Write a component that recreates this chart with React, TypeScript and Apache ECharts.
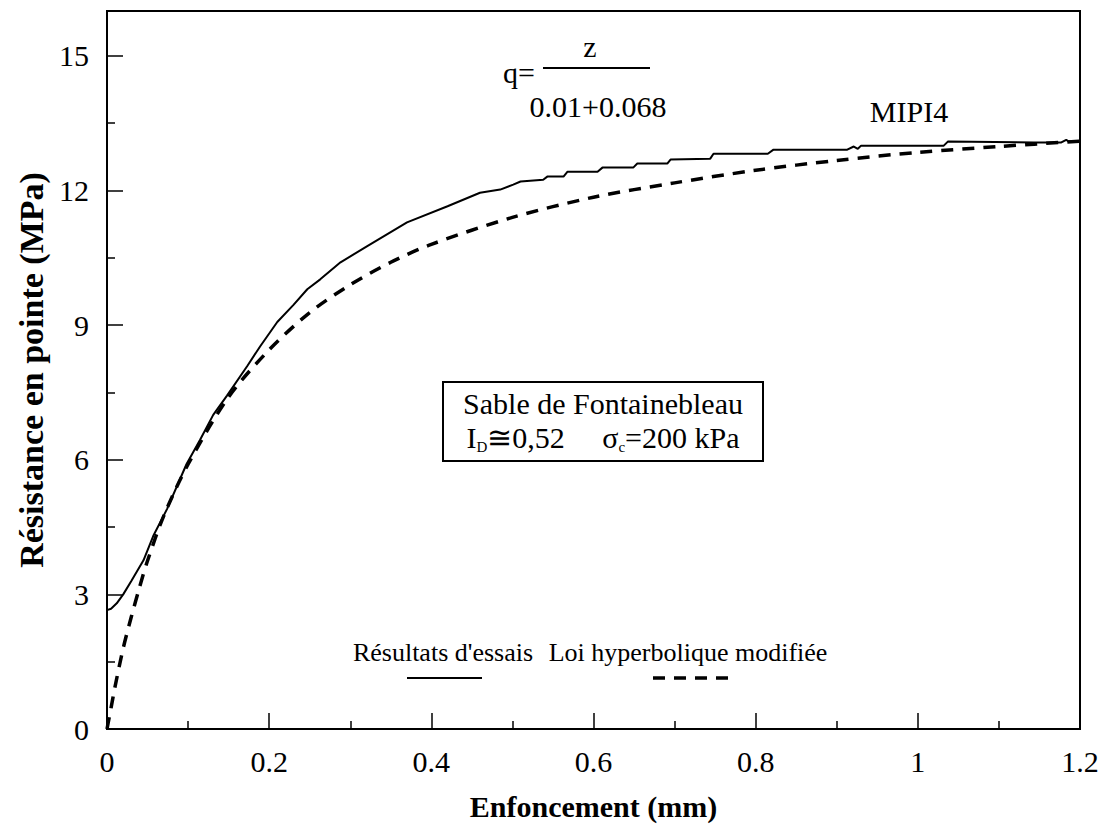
import React, { useEffect, useRef } from "react";
import * as echarts from "echarts";

const SERIF = "'Liberation Serif', 'Times New Roman', serif";

const xTickValues = [0, 0.2, 0.4, 0.6, 0.8, 1, 1.2];
const yTickLabels = [0, 3, 6, 9, 12, 15];

const essaiX = [0, 0.005, 0.012, 0.02, 0.03, 0.045, 0.057, 0.074, 0.098, 0.115, 0.131, 0.148, 0.173, 0.189, 0.21, 0.23, 0.247, 0.263, 0.288, 0.321, 0.37, 0.42, 0.46, 0.485, 0.501, 0.51, 0.538, 0.543, 0.563, 0.568, 0.605, 0.611, 0.649, 0.654, 0.691, 0.695, 0.744, 0.748, 0.815, 0.822, 0.856, 0.913, 0.921, 0.926, 0.93, 1.032, 1.037, 1.143, 1.177, 1.183, 1.186, 1.195];
const essaiY = [2.65, 2.68, 2.8, 3.0, 3.3, 3.76, 4.3, 4.9, 5.9, 6.45, 7.0, 7.43, 8.09, 8.53, 9.07, 9.45, 9.8, 10.02, 10.4, 10.76, 11.29, 11.65, 11.95, 12.02, 12.13, 12.2, 12.24, 12.31, 12.31, 12.42, 12.42, 12.51, 12.51, 12.6, 12.6, 12.69, 12.71, 12.82, 12.82, 12.91, 12.91, 12.91, 12.98, 12.93, 13.0, 13.0, 13.09, 13.07, 13.07, 13.13, 13.09, 13.09];

const loiX = [0, 0.005, 0.01, 0.02, 0.03, 0.04, 0.05, 0.07, 0.1, 0.15, 0.2, 0.25, 0.3, 0.35, 0.4, 0.5, 0.6, 0.7, 0.8, 0.9, 1.0, 1.1, 1.2];
const loiY = [0, 0.47, 0.95, 1.8, 2.5, 3.15, 3.75, 4.75, 5.9, 7.4, 8.45, 9.28, 9.9, 10.4, 10.8, 11.4, 11.85, 12.17, 12.45, 12.67, 12.85, 12.98, 13.1];

const legendNames = ["Résultats d'essais", "Loi hyperbolique modifiée"];
const curveLabel = "MIPI4";
const boxTitle = "Sable de Fontainebleau";

export default function App() {
  const ref = useRef<HTMLDivElement>(null);
  useEffect(() => {
    if (!ref.current) return;
    const chart = echarts.init(ref.current, null, { renderer: "svg" });
    const essai = essaiX.map((x, i) => [x, essaiY[i]]);
    const loi = loiX.map((x, i) => [x, loiY[i]]);
    const txt = (text: string, x: number, y: number, size: number, extra: any = {}) => ({
      type: "text",
      x,
      y,
      style: {
        text,
        fontSize: size,
        fontFamily: SERIF,
        fill: "#000",
        align: "center",
        verticalAlign: "middle",
        ...extra,
      },
    });
    chart.setOption({
      animation: false,
      backgroundColor: "#fff",
      grid: { left: 107, right: 27, top: 11, bottom: 93, show: true, borderColor: "#000", borderWidth: 2 },
      xAxis: {
        type: "value",
        min: 0,
        max: 1.2,
        interval: 0.2,
        name: "Enfoncement (mm)",
        nameLocation: "middle",
        nameGap: 62,
        nameTextStyle: { fontSize: 30, fontWeight: "bold", fontFamily: SERIF, color: "#000" },
        axisLine: { lineStyle: { color: "#000", width: 2 } },
        axisTick: { inside: true, length: 16, lineStyle: { color: "#000", width: 1.5 } },
        minorTick: { show: true, splitNumber: 2, length: 8, lineStyle: { color: "#000", width: 1.5 } },
        splitLine: { show: false },
        axisLabel: {
          fontSize: 30,
          fontFamily: SERIF,
          color: "#000",
          margin: 17,
          formatter: (v: number) => {
            const r = Math.round(v * 10) / 10;
            return xTickValues.includes(r) ? String(r) : "";
          },
        },
      },
      yAxis: {
        type: "value",
        min: 0,
        max: 16,
        interval: 3,
        name: "Résistance en pointe (MPa)",
        nameLocation: "middle",
        nameGap: 52,
        nameRotate: 90,
        nameTextStyle: { fontSize: 34, fontWeight: "bold", fontFamily: SERIF, color: "#000" },
        axisLine: { lineStyle: { color: "#000", width: 2 } },
        axisTick: { inside: true, length: 16, lineStyle: { color: "#000", width: 1.5 } },
        minorTick: { show: true, splitNumber: 2, length: 8, lineStyle: { color: "#000", width: 1.5 } },
        splitLine: { show: false },
        axisLabel: {
          fontSize: 30,
          fontFamily: SERIF,
          color: "#000",
          margin: 18,
          formatter: (v: number) => (yTickLabels.includes(v) ? String(v) : ""),
        },
      },
      series: [
        {
          type: "line",
          name: legendNames[0],
          data: essai,
          showSymbol: false,
          lineStyle: { color: "#000", width: 2 },
        },
        {
          type: "line",
          name: legendNames[1],
          data: loi,
          showSymbol: false,
          smooth: 0.3,
          lineStyle: { color: "#000", width: 3.5, type: [12, 9] },
        },
      ],
      graphic: [
        txt("q=", 519, 72, 30),
        txt("z", 590, 46, 30),
        { type: "line", shape: { x1: 543, y1: 68, x2: 650, y2: 68 }, style: { stroke: "#000", lineWidth: 2 } },
        txt("0.01+0.068", 598, 106, 30),
        txt(curveLabel, 909, 111, 30),
        { type: "rect", shape: { x: 443, y: 382, width: 320, height: 79 }, style: { fill: "#fff", stroke: "#000", lineWidth: 2 } },
        txt(boxTitle, 603, 403, 30),
        {
          type: "text",
          x: 603,
          y: 437,
          style: {
            text: "{n|I}{s|D}{n|≅0,52     σ}{s|c}{n|=200 kPa}",
            fontFamily: SERIF,
            fill: "#000",
            align: "center",
            verticalAlign: "middle",
            rich: {
              n: { fontSize: 30, fontFamily: SERIF, lineHeight: 34, verticalAlign: "middle" },
              s: { fontSize: 15, fontFamily: SERIF, lineHeight: 22, verticalAlign: "bottom" },
            },
          },
        },
        txt(legendNames[0], 443, 652, 26),
        txt(legendNames[1], 688, 652, 26),
        { type: "line", shape: { x1: 407, y1: 678, x2: 482, y2: 678 }, style: { stroke: "#000", lineWidth: 2 } },
        { type: "line", shape: { x1: 653, y1: 678, x2: 732, y2: 678 }, style: { stroke: "#000", lineWidth: 3.5, lineDash: [12, 9] } },
      ],
    });
    return () => chart.dispose();
  }, []);
  return <div ref={ref} style={{ width: 1107, height: 826, position: "absolute", left: 0, top: 0 }} />;
}
